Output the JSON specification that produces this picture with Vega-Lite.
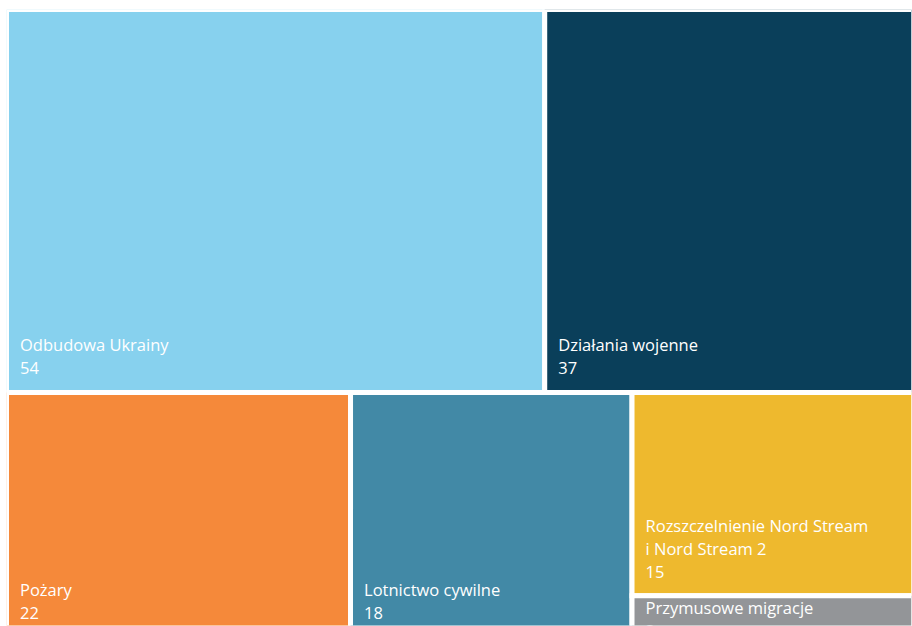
{
  "$schema": "https://vega.github.io/schema/vega-lite/v6.json",
  "width": 905,
  "height": 616,
  "autosize": {"type": "none"},
  "padding": {"left": 6.5, "top": 9.5, "right": 0, "bottom": 0},
  "background": "white",
  "config": {"view": {"stroke": null}},
  "data": {
    "values": [
      {"name": "Odbudowa Ukrainy", "value": 54, "row": 0, "col": "a", "order": 1},
      {"name": "Działania wojenne", "value": 37, "row": 0, "col": "b", "order": 2},
      {"name": "Pożary", "value": 22, "row": 1, "col": "c", "order": 3},
      {"name": "Lotnictwo cywilne", "value": 18, "row": 1, "col": "d", "order": 4},
      {"name": "Rozszczelnienie Nord Stream\ni Nord Stream 2", "value": 15, "row": 1, "col": "e", "order": 5},
      {"name": "Przymusowe migracje", "value": 3, "row": 1, "col": "e", "order": 6}
    ]
  },
  "transform": [
    {"joinaggregate": [{"op": "sum", "field": "value", "as": "total"}]},
    {"joinaggregate": [{"op": "sum", "field": "value", "as": "rowTotal"}], "groupby": ["row"]},
    {"joinaggregate": [{"op": "sum", "field": "value", "as": "colTotal"}], "groupby": ["col"]},
    {"window": [{"op": "sum", "field": "value", "as": "colCum"}], "sort": [{"field": "order"}], "groupby": ["col"], "frame": [null, 0]},
    {"calculate": "datum.colCum - datum.value", "as": "colStart"},
    {"calculate": "datum.colStart == 0 ? datum.colTotal : 0", "as": "firstCol"},
    {"window": [{"op": "sum", "field": "firstCol", "as": "xCum"}], "sort": [{"field": "order"}], "groupby": ["row"], "frame": [null, 0]},
    {"calculate": "datum.row == 0 ? 0 : datum.total - datum.rowTotal", "as": "rowStart"},
    {"calculate": "(datum.xCum - datum.colTotal) / datum.rowTotal", "as": "x0"},
    {"calculate": "datum.xCum / datum.rowTotal", "as": "x1"},
    {"calculate": "(datum.rowStart + datum.rowTotal * datum.colStart / datum.colTotal) / datum.total", "as": "y0"},
    {"calculate": "(datum.rowStart + datum.rowTotal * (datum.colStart + datum.value) / datum.colTotal) / datum.total", "as": "y1"},
    {"calculate": "datum.name + '\\n' + datum.value", "as": "label"},
    {"calculate": "length(split(datum.label, '\\n'))", "as": "nLines"},
    {"calculate": "(datum.y1 - datum.y0) * 627 < datum.nLines * 23 + 20 ? datum.y0 + 36 / 627 : datum.y1 - (datum.nLines - 1) * 23 / 627", "as": "yText"}
  ],
  "layer": [
    {
      "mark": {"type": "rect", "stroke": "white", "strokeWidth": 5, "clip": true},
      "encoding": {
        "x": {"field": "x0", "type": "quantitative", "scale": {"domain": [0, 1], "range": [0, 907]}, "axis": null},
        "x2": {"field": "x1"},
        "y": {"field": "y0", "type": "quantitative", "scale": {"domain": [0, 1], "range": [0, 627]}, "axis": null},
        "y2": {"field": "y1"},
        "color": {
          "field": "name",
          "type": "nominal",
          "legend": null,
          "scale": {
            "domain": ["Odbudowa Ukrainy", "Działania wojenne", "Pożary", "Lotnictwo cywilne", "Rozszczelnienie Nord Stream\ni Nord Stream 2", "Przymusowe migracje"],
            "range": ["#87D1EE", "#0A3F5A", "#F5893A", "#4289A6", "#EEB92E", "#939598"]
          }
        }
      }
    },
    {
      "mark": {"type": "text", "align": "left", "baseline": "alphabetic", "dx": 13.5, "dy": -18, "color": "white", "font": "Open Sans", "fontSize": 16.5, "lineHeight": 23, "lineBreak": "\n", "clip": true},
      "encoding": {
        "x": {"field": "x0", "type": "quantitative"},
        "y": {"field": "yText", "type": "quantitative"},
        "text": {"field": "label"}
      }
    }
  ]
}
